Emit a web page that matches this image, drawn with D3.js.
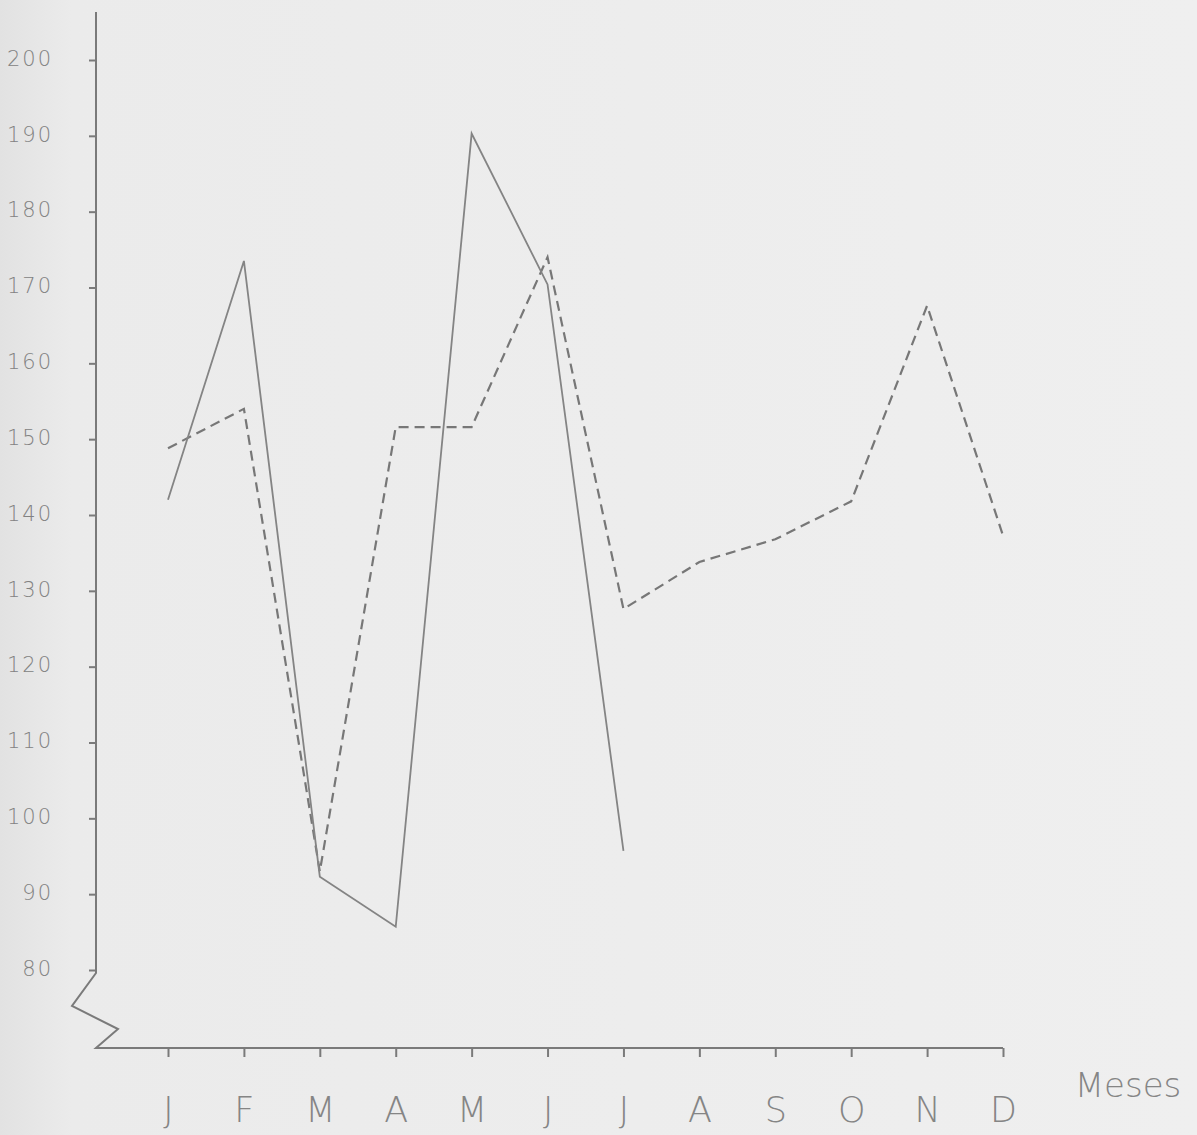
<!DOCTYPE html>
<html>
<head>
<meta charset="utf-8">
<script src="https://cdnjs.cloudflare.com/ajax/libs/d3/7.8.5/d3.min.js"></script>
<style>
  body { margin: 0; background: #ededed; }
  svg { display: block; }
</style>
</head>
<body>
<div id="chart"></div>
<script>
var months = ["J", "F", "M", "A", "M", "J", "J", "A", "S", "O", "N", "D"];
var yTicks = [80, 90, 100, 110, 120, 130, 140, 150, 160, 170, 180, 190, 200];
// solid line, January to July only
var solidValues = [142, 173.5, 92.3, 85.7, 190.3, 170.4, 95.7];
// dashed line, whole year
var dashedValues = [148.8, 154, 93, 151.6, 151.6, 174, 127.6, 133.8, 136.8, 141.8, 167.6, 137.3];

var width = 1197, height = 1135;

var svg = d3.select("#chart").append("svg")
    .attr("width", width)
    .attr("height", height);

// paper, a little darker toward the left edge
var grad = svg.append("defs").append("linearGradient")
    .attr("id", "paper");
grad.append("stop").attr("offset", "0").attr("stop-color", "#e2e2e2");
grad.append("stop").attr("offset", "0.06").attr("stop-color", "#ebebeb");
grad.append("stop").attr("offset", "1").attr("stop-color", "#efefef");
svg.append("rect")
    .attr("width", width)
    .attr("height", height)
    .attr("fill", "url(#paper)");

var x = d3.scalePoint()
    .domain(d3.range(months.length))
    .range([168, 1003]);

var y = d3.scaleLinear()
    .domain([80, 200])
    .range([970, 60]);

var ink = "#7a7a7a";
var axisX0 = 96, axisY = 1048;

// y axis with the small ticks to its left
var yAxis = svg.append("g")
    .attr("transform", "translate(" + axisX0 + ",0)")
    .call(d3.axisLeft(y).tickValues(yTicks).tickSize(7).tickPadding(44).tickFormat(d3.format("d")));
yAxis.select(".domain").remove();
yAxis.selectAll(".tick line").attr("stroke", ink).attr("stroke-width", 2);
yAxis.selectAll(".tick text")
    .attr("x", -43)
    .attr("dy", "0.25em")
    .attr("fill", "#828282")
    .style("font-family", "'DejaVu Sans', sans-serif")
    .style("font-weight", "200")
    .style("font-size", "21px")
    .style("letter-spacing", "2px");

// axis line, broken with a zigzag below 80
svg.append("path")
    .attr("d", d3.line()([[axisX0, 12], [axisX0, y(80) + 3], [72, 1006], [118, 1029], [axisX0, axisY], [1003, axisY]]))
    .attr("fill", "none")
    .attr("stroke", ink)
    .attr("stroke-width", 2);

// x axis ticks and month labels
var xAxis = svg.append("g")
    .attr("transform", "translate(0," + axisY + ")")
    .call(d3.axisBottom(x).tickSize(9).tickPadding(40).tickFormat(function (i) { return months[i]; }));
xAxis.select(".domain").remove();
xAxis.selectAll(".tick line").attr("stroke", ink).attr("stroke-width", 2);
xAxis.selectAll(".tick text")
    .attr("fill", "#858585")
    .style("font-family", "'DejaVu Sans', sans-serif")
    .style("font-weight", "200")
    .style("font-size", "35px");

svg.append("text")
    .attr("x", 1128)
    .attr("y", 1097)
    .attr("text-anchor", "middle")
    .attr("fill", "#858585")
    .style("font-family", "'DejaVu Sans', sans-serif")
    .style("font-weight", "200")
    .style("font-size", "34px")
    .text("Meses");

var line = d3.line()
    .x(function (d, i) { return x(i); })
    .y(function (d) { return y(d); });

svg.append("path")
    .datum(dashedValues)
    .attr("d", line)
    .attr("fill", "none")
    .attr("stroke", "#777")
    .attr("stroke-width", 2.2)
    .attr("stroke-dasharray", "10,6");

svg.append("path")
    .datum(solidValues)
    .attr("d", line)
    .attr("fill", "none")
    .attr("stroke", "#848484")
    .attr("stroke-width", 1.8);
</script>
</body>
</html>
